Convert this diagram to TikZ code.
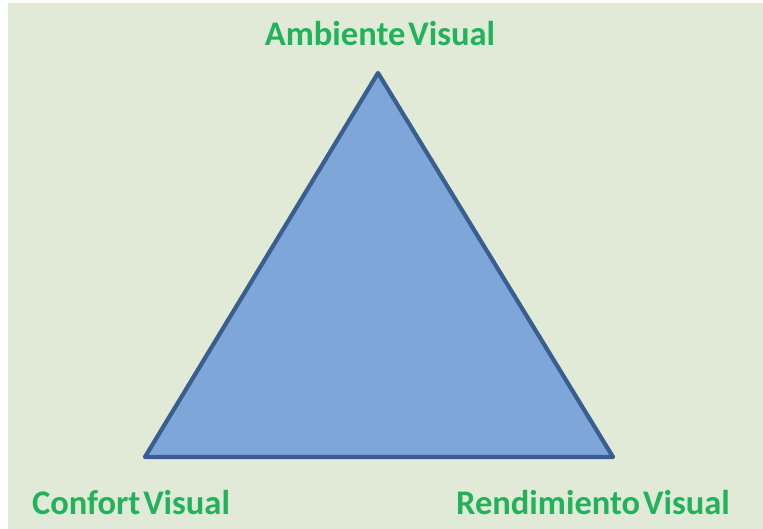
\documentclass[tikz,border=0pt]{standalone}
\usepackage{fontspec}
\setmainfont{Carlito}
\definecolor{bgc}{HTML}{E0EAD6}
\definecolor{tfill}{HTML}{7EA6D9}
\definecolor{tline}{HTML}{3A5F8F}
\definecolor{lbl}{HTML}{22B25C}
\newcommand{\wsp}{\hspace{3pt}}
\begin{document}
\begin{tikzpicture}[x=1pt,y=-1pt,
  lab/.style={text=lbl,font=\fontsize{34.5}{38}\selectfont\bfseries,anchor=base,inner sep=0pt}]
\useasboundingbox (0,0) rectangle (763,529);
\fill[white] (0,0) rectangle (763,529);
\fill[bgc] (8,3) rectangle (763,529);
\coordinate (top) at (378,73);
\coordinate (bl) at (145,457);
\coordinate (br) at (613,457);
\filldraw[fill=tfill,draw=tline,line width=4.2pt,line join=round] (top) -- (bl) -- (br) -- cycle;
\node[lab] (amb) at (380,46) {Ambiente\wsp Visual};
\node[lab] (conf) at (131,514) {Confort\wsp Visual};
\node[lab] (rend) at (593,514) {Rendimiento\wsp Visual};
\end{tikzpicture}
\end{document}
